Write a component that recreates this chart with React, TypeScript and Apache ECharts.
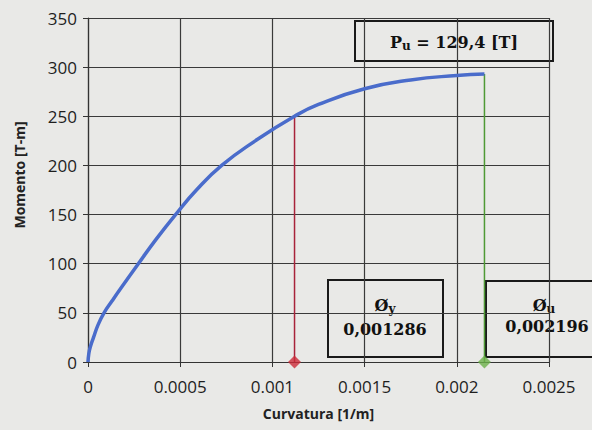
import React, { useEffect, useRef } from "react";
import * as echarts from "echarts";

const curvature = [0, 0.000004, 0.000012, 0.00003, 0.000055, 0.000087, 0.00013, 0.000178, 0.000273, 0.00037, 0.000475, 0.000588, 0.000725, 0.000907, 0.00112, 0.00125, 0.0015, 0.00175, 0.002, 0.00215];
const moment = [0, 8, 15, 25, 38, 50, 62, 75, 100, 125, 150, 175, 200, 225, 250, 262, 278, 287, 291.5, 293];
const yieldPoint = [0.00112, 250];
const ultimatePoint = [0.00215, 293];
const xTicks = [0, 0.0005, 0.001, 0.0015, 0.002, 0.0025];
const yTicks = [0, 50, 100, 150, 200, 250, 300, 350];
const labelPu = "129,4 [T]";
const labelPhiY = "0,001286";
const labelPhiU = "0,002196";

export default function App() {
  const ref = useRef<HTMLDivElement>(null);
  useEffect(() => {
    const chart = echarts.init(ref.current!, undefined, { renderer: "svg" });
    const font = "Open Sans";
    const serif = "DejaVu Serif";
    const boxStyle = { fill: "#e9e9e7", stroke: "#1a1a1a", lineWidth: 2 };
    const rich = {
      m: { fontFamily: serif, fontWeight: "bold", fontSize: 16, fill: "#111" },
      s: { fontFamily: serif, fontWeight: "bold", fontSize: 12, fill: "#111", padding: [8, 0, 0, 0] },
    };
    chart.setOption({
      animation: false,
      backgroundColor: "#e9e9e7",
      grid: { left: 88, right: 43, top: 18, bottom: 68 },
      xAxis: {
        type: "value",
        min: xTicks[0],
        max: xTicks[xTicks.length - 1],
        interval: 0.0005,
        name: "Curvatura [1/m]",
        nameLocation: "middle",
        nameGap: 44,
        nameTextStyle: { fontFamily: font, fontWeight: "bold", fontSize: 14, color: "#222" },
        axisLine: { lineStyle: { color: "#333", width: 1.2 } },
        axisTick: { show: true, length: 5, lineStyle: { color: "#333" } },
        axisLabel: {
          fontFamily: font, fontSize: 17, color: "#1e1e1e", margin: 16,
          formatter: (v: number) => String(+v.toFixed(4)),
        },
        splitLine: { lineStyle: { color: "#3a3a3a", width: 1.2 } },
      },
      yAxis: {
        type: "value",
        min: yTicks[0],
        max: yTicks[yTicks.length - 1],
        interval: 50,
        name: "Momento [T-m]",
        nameLocation: "middle",
        nameGap: 62,
        nameTextStyle: { fontFamily: font, fontWeight: "bold", fontSize: 14, color: "#222", padding: [0, 0, 0, 30] },
        axisLine: { show: true, lineStyle: { color: "#333", width: 1.2 } },
        axisTick: { show: true, length: 5, lineStyle: { color: "#333" } },
        axisLabel: { fontFamily: font, fontSize: 17, color: "#1e1e1e", margin: 11 },
        splitLine: { lineStyle: { color: "#3a3a3a", width: 1.2 } },
      },
      series: [
        {
          type: "line",
          data: curvature.map((c, i) => [c, moment[i]]),
          smooth: true,
          symbol: "none",
          lineStyle: { color: "#4a6ccb", width: 3.5 },
          z: 5,
        },
        {
          type: "line",
          data: [[yieldPoint[0], 0], yieldPoint],
          symbol: "none",
          lineStyle: { color: "#a8233a", width: 1.5 },
          z: 4,
        },
        {
          type: "line",
          data: [[ultimatePoint[0], 0], ultimatePoint],
          symbol: "none",
          lineStyle: { color: "#4f9a35", width: 1.5 },
          z: 4,
        },
        {
          type: "scatter",
          data: [[yieldPoint[0], 0]],
          symbol: "diamond",
          symbolSize: 13,
          itemStyle: { color: "#cc2a3a" },
          z: 6,
        },
        {
          type: "scatter",
          data: [[ultimatePoint[0], 0]],
          symbol: "diamond",
          symbolSize: 13,
          itemStyle: { color: "#6cb04a" },
          z: 6,
        },
      ],
      graphic: [
        {
          type: "group", x: 355, y: 21, z: 100,
          children: [
            { type: "rect", shape: { x: 0, y: 0, width: 198, height: 40 }, style: boxStyle },
            {
              type: "text", x: 99, y: 21,
              style: { text: "{m|P}{s|u}{m| = " + labelPu + "}", rich, align: "center", verticalAlign: "middle" },
            },
          ],
        },
        {
          type: "group", x: 328, y: 280, z: 100,
          children: [
            { type: "rect", shape: { x: 0, y: 0, width: 115, height: 77 }, style: boxStyle },
            {
              type: "text", x: 57, y: 25,
              style: { text: "{m|Ø}{s|y}", rich, align: "center", verticalAlign: "middle" },
            },
            {
              type: "text", x: 57, y: 49,
              style: { text: "{m|" + labelPhiY + "}", rich, align: "center", verticalAlign: "middle" },
            },
          ],
        },
        {
          type: "group", x: 486, y: 281, z: 100,
          children: [
            { type: "rect", shape: { x: 0, y: 0, width: 122, height: 76 }, style: boxStyle },
            {
              type: "text", x: 58, y: 24,
              style: { text: "{m|Ø}{s|u}", rich, align: "center", verticalAlign: "middle" },
            },
            {
              type: "text", x: 61, y: 45,
              style: { text: "{m|" + labelPhiU + "}", rich, align: "center", verticalAlign: "middle" },
            },
          ],
        },
      ],
    });
    return () => chart.dispose();
  }, []);
  return <div ref={ref} style={{ width: 592, height: 430, position: "absolute", left: 0, top: 0 }} />;
}
